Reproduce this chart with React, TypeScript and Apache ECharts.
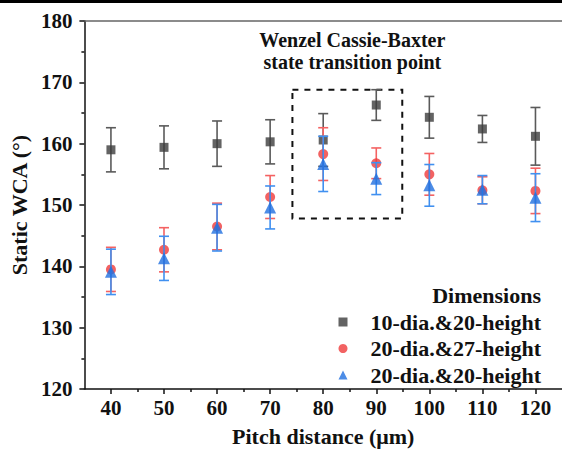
import React, { useEffect, useRef } from "react";
import * as echarts from "echarts";

const pitch = [40, 50, 60, 70, 80, 90, 100, 110, 120];
const majorTicks = [40, 50, 60, 70, 80, 90, 100, 110, 120];
const minorTicks = [45, 55, 65, 75, 85, 95, 105, 115];

const wcaA = [159.0, 159.4, 160.0, 160.3, 160.6, 166.3, 164.3, 162.4, 161.2];
const errA = [3.6, 3.5, 3.7, 3.6, 4.3, 2.5, 3.4, 2.2, 4.7];
const wcaB = [139.5, 142.7, 146.5, 151.3, 158.3, 156.8, 155.0, 152.4, 152.3];
const errB = [3.6, 3.6, 3.8, 3.5, 4.3, 2.5, 3.4, 2.2, 3.7];
const wcaC = [139.1, 141.3, 146.3, 149.6, 156.7, 154.3, 153.2, 152.5, 151.2];
const errC = [3.7, 3.6, 3.8, 3.5, 4.5, 2.6, 3.4, 2.3, 3.9];

const names = ["10-dia.&20-height", "20-dia.&27-height", "20-dia.&20-height"];
const regionX = [74.2, 94.9];
const regionY = [147.8, 168.8];

const FONT = "'Liberation Serif', 'Times New Roman', serif";

function errorSeries(vals: number[], errs: number[], color: string, z: number) {
  return {
    type: "custom",
    silent: true,
    z,
    xAxisIndex: 0,
    yAxisIndex: 0,
    encode: { x: 0, y: [1, 2] },
    data: pitch.map((p, i) => [p, vals[i] - errs[i], vals[i] + errs[i]]),
    renderItem: (params: any, api: any) => {
      const x = api.value(0);
      const pLo = api.coord([x, api.value(1)]);
      const pHi = api.coord([x, api.value(2)]);
      const hw = 5;
      const style = { stroke: color, lineWidth: 1.6, fill: "none" };
      return {
        type: "group",
        children: [
          { type: "line", shape: { x1: pHi[0], y1: pHi[1], x2: pLo[0], y2: pLo[1] }, style },
          { type: "line", shape: { x1: pHi[0] - hw, y1: pHi[1], x2: pHi[0] + hw, y2: pHi[1] }, style },
          { type: "line", shape: { x1: pLo[0] - hw, y1: pLo[1], x2: pLo[0] + hw, y2: pLo[1] }, style },
        ],
      };
    },
  };
}

export default function App() {
  const ref = useRef<HTMLDivElement>(null);
  useEffect(() => {
    if (!ref.current) return;
    const chart = echarts.init(ref.current, undefined, { renderer: "svg" });
    const axisLabelStyle = { fontFamily: FONT, fontWeight: "bold", fontSize: 21, color: "#111" };
    chart.setOption({
      animation: false,
      backgroundColor: "#fff",
      textStyle: { fontFamily: FONT },
      grid: { left: 84, right: 0, top: 21, bottom: 57, containLabel: false },
      title: {
        text: "Dimensions",
        right: 16,
        top: 279,
        textStyle: { fontFamily: FONT, fontWeight: "bold", fontSize: 22, color: "#111" },
      },
      legend: {
        orient: "vertical",
        right: 16,
        top: 306,
        itemWidth: 9,
        itemHeight: 9,
        itemGap: 4.5,
        align: "left",
        data: [
          { name: names[0], icon: "rect" },
          { name: names[1], icon: "circle" },
          { name: names[2], icon: "triangle" },
        ],
        textStyle: {
          fontFamily: FONT,
          fontWeight: "bold",
          fontSize: 22,
          color: "#111",
          padding: [0, 0, 0, 18],
          lineHeight: 22,
        },
      },
      graphic: [
        { type: "rect", left: 0, top: 0, shape: { width: 562, height: 3 }, style: { fill: "#000" } },
      ],
      xAxis: [
        {
          type: "value",
          min: 35,
          max: 125,
          position: "bottom",
          name: "Pitch distance (\u03bcm)",
          nameLocation: "middle",
          nameGap: 36,
          nameTextStyle: { fontFamily: FONT, fontWeight: "bold", fontSize: 22, color: "#111" },
          axisLine: { show: true, lineStyle: { color: "#111", width: 1.5 } },
          axisTick: { show: true, length: 5, customValues: majorTicks, lineStyle: { color: "#111", width: 1.5 } },
          axisLabel: { show: true, customValues: majorTicks, margin: 8, ...axisLabelStyle },
          splitLine: { show: false },
        },
        {
          type: "value",
          min: 35,
          max: 125,
          position: "bottom",
          axisLine: { show: false },
          axisTick: { show: true, length: 3, customValues: minorTicks, lineStyle: { color: "#111", width: 1.5 } },
          axisLabel: { show: false },
          splitLine: { show: false },
        },
        {
          type: "value",
          min: 35,
          max: 125,
          position: "top",
          axisLine: { show: true, lineStyle: { color: "#666", width: 1.6 } },
          axisTick: { show: false },
          axisLabel: { show: false },
          splitLine: { show: false },
        },
      ],
      yAxis: {
        type: "value",
        min: 120,
        max: 180,
        interval: 10,
        name: "Static WCA (\u00b0)",
        nameLocation: "middle",
        nameGap: 51,
        nameTextStyle: { fontFamily: FONT, fontWeight: "bold", fontSize: 22, color: "#111" },
        axisLine: { show: true, lineStyle: { color: "#111", width: 1.5 } },
        axisTick: { show: true, length: 5, lineStyle: { color: "#111", width: 1.5 } },
        minorTick: { show: true, splitNumber: 2, length: 3, lineStyle: { color: "#111", width: 1.5 } },
        axisLabel: { margin: 12, ...axisLabelStyle },
        splitLine: { show: false },
      },
      series: [
        errorSeries(wcaA, errA, "#5a5a5a", 2),
        {
          type: "scatter",
          name: names[0],
          z: 3,
          symbol: "rect",
          symbolSize: 9,
          itemStyle: { color: "#3c3c3c" },
          data: pitch.map((p, i) => [p, wcaA[i]]),
          markArea: {
            silent: true,
            itemStyle: { color: "rgba(0,0,0,0)", borderColor: "#111", borderWidth: 2, borderType: [6, 6] },
            label: {
              show: true,
              position: "top",
              distance: 16,
              offset: [5, 0],
              formatter: "Wenzel Cassie-Baxter\nstate transition point",
              fontFamily: FONT,
              fontWeight: "bold",
              fontSize: 20,
              lineHeight: 22,
              color: "#111",
            },
            data: [[{ coord: [regionX[0], regionY[1]] }, { coord: [regionX[1], regionY[0]] }]],
          },
        },
        errorSeries(wcaB, errB, "#f46262", 4),
        {
          type: "scatter",
          name: names[1],
          z: 5,
          symbol: "circle",
          symbolSize: 10,
          itemStyle: { color: "#ef3b3b" },
          data: pitch.map((p, i) => [p, wcaB[i]]),
        },
        errorSeries(wcaC, errC, "#4090f0", 6),
        {
          type: "scatter",
          name: names[2],
          z: 7,
          symbol: "triangle",
          symbolSize: 12,
          itemStyle: { color: "#1f6fe0" },
          data: pitch.map((p, i) => [p, wcaC[i]]),
        },
      ],
    });
    return () => chart.dispose();
  }, []);
  return (
    <div
      ref={ref}
      style={{ position: "fixed", left: 0, top: 0, width: 562, height: 452, background: "#fff" }}
    />
  );
}
